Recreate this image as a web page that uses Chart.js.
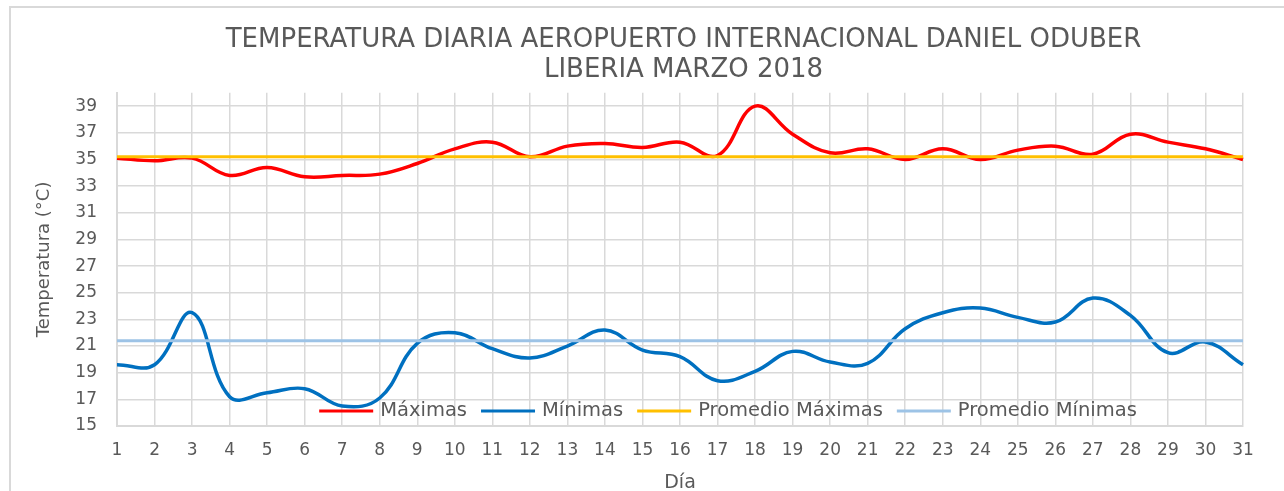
<!DOCTYPE html>
<html>
<head>
<meta charset="utf-8">
<script src="https://cdn.jsdelivr.net/npm/chart.js@4.4.1/dist/chart.umd.min.js"></script>
<style>
  html, body { margin: 0; padding: 0; background: #ffffff; }
</style>
</head>
<body>
<canvas id="tempChart" width="1284" height="491"></canvas>
<script>
var dias = ['1', '2', '3', '4', '5', '6', '7', '8', '9', '10', '11', '12', '13', '14', '15', '16',
            '17', '18', '19', '20', '21', '22', '23', '24', '25', '26', '27', '28', '29', '30', '31'];

var maximas = [35.1, 34.9, 35.1, 33.8, 34.4, 33.7, 33.8, 33.9, 34.7, 35.8, 36.3, 35.2, 36.0, 36.2, 35.9, 36.3,
               35.3, 39.0, 36.9, 35.5, 35.8, 35.0, 35.8, 35.0, 35.7, 36.0, 35.4, 36.9, 36.3, 35.8, 35.0];

var minimas = [19.6, 19.6, 23.5, 17.2, 17.5, 17.8, 16.5, 17.1, 21.2, 22.0, 20.8, 20.1, 21.0, 22.2, 20.7, 20.2,
               18.4, 19.1, 20.6, 19.8, 19.7, 22.3, 23.5, 23.85, 23.15, 22.8, 24.6, 23.3, 20.5, 21.3, 19.6];

var promedioMaximas = [35.2, 35.2, 35.2, 35.2, 35.2, 35.2, 35.2, 35.2, 35.2, 35.2, 35.2, 35.2, 35.2, 35.2, 35.2, 35.2,
                       35.2, 35.2, 35.2, 35.2, 35.2, 35.2, 35.2, 35.2, 35.2, 35.2, 35.2, 35.2, 35.2, 35.2, 35.2];

var promedioMinimas = [21.4, 21.4, 21.4, 21.4, 21.4, 21.4, 21.4, 21.4, 21.4, 21.4, 21.4, 21.4, 21.4, 21.4, 21.4, 21.4,
                       21.4, 21.4, 21.4, 21.4, 21.4, 21.4, 21.4, 21.4, 21.4, 21.4, 21.4, 21.4, 21.4, 21.4, 21.4];

var yTicks = [15, 17, 19, 21, 23, 25, 27, 29, 31, 33, 35, 37, 39];

var FONT = 'DejaVu Sans';
var GREY_TEXT = '#595959';
var GRID = '#d9d9d9';

// outer frame of the chart object (only top and left edge are visible)
var frame = {
    id: 'frame',
    beforeDraw: function(chart) {
        var c = chart.ctx;
        c.save();
        c.strokeStyle = GRID;
        c.lineWidth = 2;
        c.beginPath();
        c.moveTo(10, 491);
        c.lineTo(10, 7);
        c.lineTo(1284, 7);
        c.stroke();
        c.restore();
    }
};

// title is centred a bit right of the canvas middle
var titleShift = {
    id: 'titleShift',
    afterLayout: function(chart) {
        chart.titleBlock.left += 62;
        chart.titleBlock.right += 62;
    }
};

// legend drawn inside the plot, near the bottom, under the lines
var legendInside = {
    id: 'legendInside',
    beforeDatasetsDraw: function(chart) {
        var c = chart.ctx;
        var area = chart.chartArea;
        var sets = chart.data.datasets;
        var lineLen = 54, gap = 7, space = 14;
        c.save();
        c.font = '19.5px "' + FONT + '"';
        var total = 0;
        sets.forEach(function(ds, i) {
            total += lineLen + gap + c.measureText(ds.label).width;
            if (i > 0) total += space;
        });
        var x = (area.left + area.right) / 2 + 48 - total / 2;
        var y = area.bottom - 15;
        c.textBaseline = 'middle';
        c.textAlign = 'left';
        sets.forEach(function(ds) {
            c.strokeStyle = ds.borderColor;
            c.lineWidth = 3;
            c.beginPath();
            c.moveTo(x, y);
            c.lineTo(x + lineLen, y);
            c.stroke();
            x += lineLen + gap;
            c.fillStyle = GREY_TEXT;
            c.fillText(ds.label, x, y);
            x += c.measureText(ds.label).width + space;
        });
        c.restore();
    }
};

window.onload = function() {
    var ctx = document.getElementById('tempChart').getContext('2d');
    var tempChart = new Chart(ctx, {
        type: 'line',
        data: {
            labels: dias,
            datasets: [{
                label: 'Máximas',
                data: maximas,
                borderColor: '#FF0000',
                backgroundColor: '#FF0000',
                borderWidth: 3.5,
                tension: 0.4,
                order: 4
            }, {
                label: 'Mínimas',
                data: minimas,
                borderColor: '#0070C0',
                backgroundColor: '#0070C0',
                borderWidth: 3.5,
                tension: 0.4,
                order: 3
            }, {
                label: 'Promedio Máximas',
                data: promedioMaximas,
                borderColor: '#FFC000',
                backgroundColor: '#FFC000',
                borderWidth: 3,
                tension: 0,
                order: 2
            }, {
                label: 'Promedio Mínimas',
                data: promedioMinimas,
                borderColor: '#9DC3E6',
                backgroundColor: '#9DC3E6',
                borderWidth: 3,
                tension: 0,
                order: 1
            }]
        },
        options: {
            responsive: false,
            animation: false,
            devicePixelRatio: 1,
            layout: {
                padding: { top: 25, right: 41, bottom: 0, left: 0 }
            },
            elements: {
                point: { radius: 0, hoverRadius: 0 }
            },
            plugins: {
                title: {
                    display: true,
                    text: ['TEMPERATURA DIARIA AEROPUERTO INTERNACIONAL DANIEL ODUBER', 'LIBERIA MARZO 2018'],
                    color: GREY_TEXT,
                    font: { family: FONT, size: 26, weight: 'normal', lineHeight: 1.17 },
                    padding: { top: 0, bottom: 7 }
                },
                legend: { display: false },
                tooltip: { enabled: false }
            },
            scales: {
                x: {
                    offset: false,
                    grid: { color: GRID, lineWidth: 1.5, drawTicks: false },
                    border: { color: GRID, width: 2 },
                    ticks: {
                        color: GREY_TEXT,
                        font: { family: FONT, size: 17 },
                        padding: 14,
                        maxRotation: 0,
                        autoSkip: false
                    },
                    title: {
                        display: true,
                        text: 'Día',
                        color: GREY_TEXT,
                        font: { family: FONT, size: 19 },
                        padding: { top: 0, bottom: -3 }
                    },
                    afterFit: function(scale) { scale.height = 65; }
                },
                y: {
                    min: 15,
                    max: 40,
                    grid: { color: GRID, lineWidth: 1.5, drawTicks: false },
                    border: { color: GRID, width: 2 },
                    ticks: {
                        color: GREY_TEXT,
                        font: { family: FONT, size: 17 },
                        padding: 20
                    },
                    title: {
                        display: true,
                        text: 'Temperatura (°C)',
                        color: GREY_TEXT,
                        font: { family: FONT, size: 18 },
                        padding: { top: 34, bottom: 0 }
                    },
                    afterBuildTicks: function(scale) {
                        scale.ticks = yTicks.map(function(v) { return { value: v }; });
                    },
                    afterFit: function(scale) { scale.width = 117; }
                }
            }
        },
        plugins: [frame, titleShift, legendInside]
    });
};
</script>
</body>
</html>
